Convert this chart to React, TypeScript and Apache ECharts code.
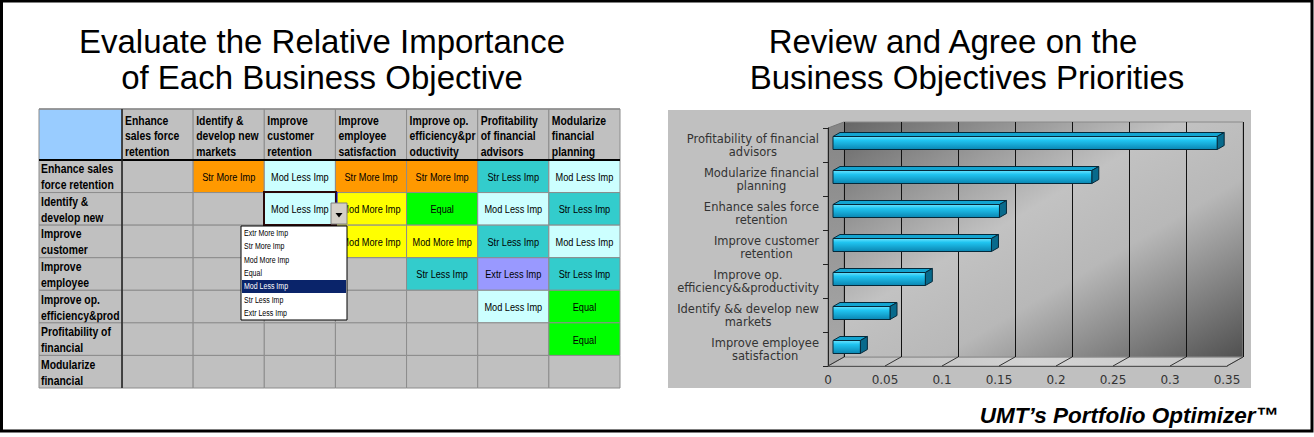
import React, { useEffect, useRef } from 'react';
import * as echarts from 'echarts';

// ---------- data ----------
const leftTitle = ['Evaluate the Relative Importance', 'of Each Business Objective'];
const rightTitle = ['Review and Agree on the', 'Business Objectives Priorities'];
const footerText = 'UMT\u2019s Portfolio Optimizer\u2122';

const colLabels = [
  'Enhance\nsales force\nretention',
  'Identify &\ndevelop new\nmarkets',
  'Improve\ncustomer\nretention',
  'Improve\nemployee\nsatisfaction',
  'Improve op.\nefficiency&pr\noductivity',
  'Profitability\nof financial\nadvisors',
  'Modularize\nfinancial\nplanning',
];
const rowLabels = [
  'Enhance sales\nforce retention',
  'Identify &\ndevelop new',
  'Improve\ncustomer',
  'Improve\nemployee',
  'Improve op.\nefficiency&prod',
  'Profitability of\nfinancial',
  'Modularize\nfinancial',
];
const ratings = [
  ['', 'Str More Imp', 'Mod Less Imp', 'Str More Imp', 'Str More Imp', 'Str Less Imp', 'Mod Less Imp'],
  ['', '', 'Mod Less Imp', 'Mod More Imp', 'Equal', 'Mod Less Imp', 'Str Less Imp'],
  ['', '', '', 'Mod More Imp', 'Mod More Imp', 'Str Less Imp', 'Mod Less Imp'],
  ['', '', '', '', 'Str Less Imp', 'Extr Less Imp', 'Str Less Imp'],
  ['', '', '', '', '', 'Mod Less Imp', 'Equal'],
  ['', '', '', '', '', '', 'Equal'],
  ['', '', '', '', '', '', ''],
];
const ratingColors: Record<string, string> = {
  'Extr More Imp': '#FF0000',
  'Str More Imp': '#FF9900',
  'Mod More Imp': '#FFFF00',
  'Equal': '#00FF00',
  'Mod Less Imp': '#CCFFFF',
  'Str Less Imp': '#33CCCC',
  'Extr Less Imp': '#9999FF',
};
const dropdownOptions = ['Extr More Imp', 'Str More Imp', 'Mod More Imp', 'Equal', 'Mod Less Imp', 'Str Less Imp', 'Extr Less Imp'];
const selectedOption = 'Mod Less Imp';

const barCategories = [
  'Profitability of financial\nadvisors',
  'Modularize financial\nplanning',
  'Enhance sales force\nretention',
  'Improve customer\nretention',
  'Improve op.\nefficiency&&productivity',
  'Identify && develop new\nmarkets',
  'Improve employee\nsatisfaction',
];
const barWeights = [0.337, 0.227, 0.146, 0.139, 0.081, 0.05, 0.024];
const xTicks = [0, 0.05, 0.1, 0.15, 0.2, 0.25, 0.3, 0.35];

// ---------- styles ----------
const ARIAL = '"Liberation Sans", Arial, sans-serif';
const VERD = '"DejaVu Sans", Verdana, sans-serif';
const NARROW_SCALE = 0.8;
const CELL_FONT = `11.5px ${ARIAL}`;
const HDR_FONT = `bold 13px ${ARIAL}`;
const GRAY = '#C0C0C0';
const GRID_LINE = '#8c8c8c';
const HEADER_H = 51;
const ROWHDR_W = 83;

type Item = { kind: 'cell' | 'col' | 'row' | 'corner'; r: number; c: number };
const tableItems: Item[] = [];
rowLabels.forEach((_, r) => colLabels.forEach((__, c) => tableItems.push({ kind: 'cell', r, c })));
colLabels.forEach((_, c) => tableItems.push({ kind: 'col', r: 0, c }));
rowLabels.forEach((_, r) => tableItems.push({ kind: 'row', r, c: 0 }));
tableItems.push({ kind: 'corner', r: 0, c: 0 });

function renderTable(params: any, api: any) {
  const it = tableItems[params.dataIndex];
  const ctr = api.coord([api.value(0), api.value(1)]);
  const sz = api.size([1, 1]);
  const w = sz[0], h = sz[1];
  const left = ctr[0] - w / 2, top = ctr[1] - h / 2;
  if (it.kind === 'cell') {
    const label = ratings[it.r][it.c];
    const children: any[] = [
      { type: 'rect', shape: { x: left, y: top, width: w, height: h }, style: { fill: label ? ratingColors[label] : GRAY, stroke: GRID_LINE, lineWidth: 1 } },
    ];
    if (label) {
      children.push({ type: 'text', x: ctr[0], y: ctr[1] + 0.5, scaleX: NARROW_SCALE, style: { text: label, font: CELL_FONT, fill: '#000', textAlign: 'center', textVerticalAlign: 'middle' } });
    }
    return { type: 'group', children };
  }
  if (it.kind === 'col') {
    return {
      type: 'group',
      children: [
        { type: 'rect', shape: { x: left, y: top - HEADER_H, width: w, height: HEADER_H }, style: { fill: GRAY, stroke: GRID_LINE, lineWidth: 1 } },
        { type: 'text', x: left + 3, y: top - HEADER_H + 3, scaleX: NARROW_SCALE, style: { text: colLabels[it.c], font: HDR_FONT, fill: '#000', textAlign: 'left', textVerticalAlign: 'top', lineHeight: 15.5 } },
      ],
    };
  }
  if (it.kind === 'row') {
    return {
      type: 'group',
      children: [
        { type: 'rect', shape: { x: left - ROWHDR_W, y: top, width: ROWHDR_W, height: h }, style: { fill: GRAY, stroke: GRID_LINE, lineWidth: 1 } },
        { type: 'text', x: left - ROWHDR_W + 2, y: ctr[1], scaleX: NARROW_SCALE, style: { text: rowLabels[it.r], font: HDR_FONT, fill: '#000', textAlign: 'left', textVerticalAlign: 'middle', lineHeight: 16 } },
      ],
    };
  }
  const last = api.coord([colLabels.length - 1, rowLabels.length - 1]);
  const right = last[0] + w / 2;
  const bottom = last[1] + h / 2;
  return {
    type: 'group',
    children: [
      { type: 'rect', shape: { x: left - ROWHDR_W, y: top - HEADER_H, width: ROWHDR_W, height: HEADER_H }, style: { fill: '#99CCFF', stroke: GRID_LINE, lineWidth: 1 } },
      { type: 'line', shape: { x1: left - ROWHDR_W, y1: top - HEADER_H, x2: right, y2: top - HEADER_H }, style: { stroke: '#8c8c8c', lineWidth: 1.5 } },
      { type: 'line', shape: { x1: left - ROWHDR_W, y1: top, x2: right, y2: top }, style: { stroke: '#000', lineWidth: 2 } },
      { type: 'line', shape: { x1: left, y1: top - HEADER_H, x2: left, y2: bottom }, style: { stroke: '#222', lineWidth: 1.5 } },
    ],
  };
}

const barFront = new echarts.graphic.LinearGradient(0, 0, 0, 1, [
  { offset: 0, color: '#6ae4ff' },
  { offset: 0.3, color: '#20c4f0' },
  { offset: 1, color: '#0a86b2' },
]);

function renderBar(params: any, api: any) {
  const v = api.value(0), i = api.value(1);
  const a = api.coord([0, i]);
  const b = api.coord([v, i]);
  const x0 = a[0] + 5, x1 = b[0] + 5;
  const yc = a[1] - 2;
  const hh = 13;
  const t = yc - hh / 2, btm = yc + hh / 2;
  const dx = 7, dy = -4;
  const edge = '#05293a';
  return {
    type: 'group',
    children: [
      { type: 'polygon', shape: { points: [[x0, t], [x1, t], [x1 + dx, t + dy], [x0 + dx, t + dy]] }, style: { fill: '#13a4d0', stroke: edge, lineWidth: 1 } },
      { type: 'polygon', shape: { points: [[x1, t], [x1 + dx, t + dy], [x1 + dx, btm + dy], [x1, btm]] }, style: { fill: '#086a8c', stroke: edge, lineWidth: 1 } },
      { type: 'rect', shape: { x: x0, y: t, width: x1 - x0, height: hh }, style: { fill: barFront, stroke: edge, lineWidth: 1 } },
    ],
  };
}

function renderFloorTick(params: any, api: any) {
  const p = api.coord([api.value(0), api.value(1)]);
  const bh = api.size([0, 1])[1];
  const y = p[1] + bh / 2;
  return { type: 'line', shape: { x1: p[0], y1: y, x2: p[0] + 16, y2: y - 9 }, style: { stroke: '#333', lineWidth: 1 } };
}

export default function App() {
  const ref = useRef<HTMLDivElement>(null);
  useEffect(() => {
    const chart = echarts.init(ref.current!, null, { renderer: 'svg' });

    const dropdown: any[] = [
      { type: 'rect', z: 100, shape: { x: 264, y: 192, width: 72, height: 33 }, style: { fill: 'none', stroke: '#2a0808', lineWidth: 2 } },
      { type: 'line', z: 100, shape: { x1: 337, y1: 192, x2: 337, y2: 203 }, style: { stroke: '#0000ff', lineWidth: 1 } },
      { type: 'rect', z: 101, shape: { x: 331, y: 203, width: 16, height: 21 }, style: { fill: '#d4d0c8', stroke: '#808080', lineWidth: 1 } },
      { type: 'polygon', z: 102, shape: { points: [[335.5, 213], [342.5, 213], [339, 217.5]] }, style: { fill: '#000' } },
      { type: 'rect', z: 101, shape: { x: 241, y: 226, width: 106, height: 94 }, style: { fill: '#fff', stroke: '#000', lineWidth: 1 } },
    ];
    dropdownOptions.forEach((opt, k) => {
      const yc = 233 + k * 13.4;
      const sel = opt === selectedOption;
      if (sel) dropdown.push({ type: 'rect', z: 102, shape: { x: 242, y: yc - 6.5, width: 104, height: 13 }, style: { fill: '#0A246A' } });
      dropdown.push({ type: 'text', z: 103, x: 244, y: yc, scaleX: 0.78, style: { text: opt, font: `9px ${ARIAL}`, fill: sel ? '#fff' : '#000', textAlign: 'left', textVerticalAlign: 'middle' } });
    });

    const option: any = {
      animation: false,
      backgroundColor: '#ffffff',
      grid: [
        { left: 122, top: 160, width: 498, height: 228, show: false },
        {
          left: 844, top: 122, width: 399, height: 235, show: true,
          backgroundColor: {
            type: 'linear', x: 0, y: 0, x2: 1, y2: 1,
            colorStops: [
              { offset: 0, color: '#666666' },
              { offset: 0.42, color: '#c2c2c2' },
              { offset: 0.62, color: '#b8b8b8' },
              { offset: 1, color: '#505050' },
            ],
          },
          borderColor: '#8a8a8a', borderWidth: 1,
        },
        { left: 828, top: 128, width: 399, height: 238, show: false },
      ],
      xAxis: [
        { type: 'category', gridIndex: 0, data: colLabels, show: false },
        {
          type: 'value', gridIndex: 1, min: 0, max: 0.35, interval: 0.05,
          axisLabel: { show: false }, axisLine: { show: false }, axisTick: { show: false },
          splitLine: { show: true, lineStyle: { color: '#111', width: 1 } },
        },
        {
          type: 'value', gridIndex: 2, min: 0, max: 0.35, interval: 0.05,
          axisLine: { show: true, lineStyle: { color: '#555', width: 1 } },
          axisTick: { show: false },
          splitLine: { show: false },
          axisLabel: { show: true, fontFamily: VERD, fontSize: 12, color: '#333', margin: 8 },
        },
      ],
      yAxis: [
        { type: 'category', gridIndex: 0, data: rowLabels, inverse: true, show: false },
        { type: 'category', gridIndex: 1, data: barCategories, inverse: true, show: false },
        {
          type: 'category', gridIndex: 2, data: barCategories, inverse: true,
          axisLine: { show: true, lineStyle: { color: '#222', width: 1 } },
          axisTick: { show: true, length: 5, lineStyle: { color: '#222' } },
          splitLine: { show: false },
          axisLabel: {
            show: true, margin: 9, align: 'right',
            formatter: (v: string) => v.split('\n').map((l) => `{c|${l}}`).join('\n'),
            rich: { c: { align: 'center', fontFamily: VERD, fontSize: 11.5, color: '#333', lineHeight: 13 } },
          },
        },
      ],
      graphic: [
        { type: 'rect', z: -5, shape: { x: 668, y: 110, width: 583, height: 278 }, style: { fill: '#c0c0c0' } },
        {
          type: 'polygon', z: -4, shape: { points: [[828, 128], [844, 122], [844, 357], [828, 366]] },
          style: { fill: new echarts.graphic.LinearGradient(0, 0, 0, 1, [{ offset: 0, color: '#858585' }, { offset: 1, color: '#aaaaaa' }]), stroke: '#777', lineWidth: 1 },
        },
        {
          type: 'polygon', z: -4, shape: { points: [[828, 366], [1227, 366], [1243, 357], [844, 357]] },
          style: { fill: new echarts.graphic.LinearGradient(0, 0, 1, 0, [{ offset: 0, color: '#bdbdbd' }, { offset: 0.5, color: '#d4d4d4' }, { offset: 1, color: '#c8c8c8' }]), stroke: '#999', lineWidth: 1 },
        },
        { type: 'text', z: 100, x: 322, y: 41, style: { text: leftTitle[0], font: `33px ${ARIAL}`, fill: '#000', textAlign: 'center', textVerticalAlign: 'middle' } },
        { type: 'text', z: 100, x: 322, y: 77, style: { text: leftTitle[1], font: `33px ${ARIAL}`, fill: '#000', textAlign: 'center', textVerticalAlign: 'middle' } },
        { type: 'text', z: 100, x: 953, y: 41, style: { text: rightTitle[0], font: `33px ${ARIAL}`, fill: '#000', textAlign: 'center', textVerticalAlign: 'middle' } },
        { type: 'text', z: 100, x: 967, y: 77, style: { text: rightTitle[1], font: `33px ${ARIAL}`, fill: '#000', textAlign: 'center', textVerticalAlign: 'middle' } },
        { type: 'text', z: 100, x: 1278, y: 415, style: { text: footerText, font: `italic bold 22.5px ${ARIAL}`, fill: '#000', textAlign: 'right', textVerticalAlign: 'middle' } },
        { type: 'rect', z: 100, shape: { x: 1.5, y: 1, width: 1310.5, height: 430 }, style: { fill: 'none', stroke: '#000', lineWidth: 3 } },
        ...dropdown,
      ],
      series: [
        {
          type: 'custom', coordinateSystem: 'cartesian2d', xAxisIndex: 0, yAxisIndex: 0,
          data: tableItems.map((it) => [it.c, it.r]), renderItem: renderTable, clip: false, silent: true, z: 2,
        },
        {
          type: 'custom', coordinateSystem: 'cartesian2d', xAxisIndex: 2, yAxisIndex: 2,
          data: xTicks.map((t) => [t, barCategories.length - 1]), renderItem: renderFloorTick, clip: false, silent: true, z: 1,
        },
        {
          type: 'custom', coordinateSystem: 'cartesian2d', xAxisIndex: 2, yAxisIndex: 2,
          data: barWeights.map((w, i) => [w, i]), encode: { x: 0, y: 1 }, renderItem: renderBar, clip: false, silent: true, z: 3,
        },
      ],
    };
    chart.setOption(option);
    return () => chart.dispose();
  }, []);
  return <div ref={ref} style={{ position: 'absolute', left: 0, top: 0, width: 1314, height: 437 }} />;
}
